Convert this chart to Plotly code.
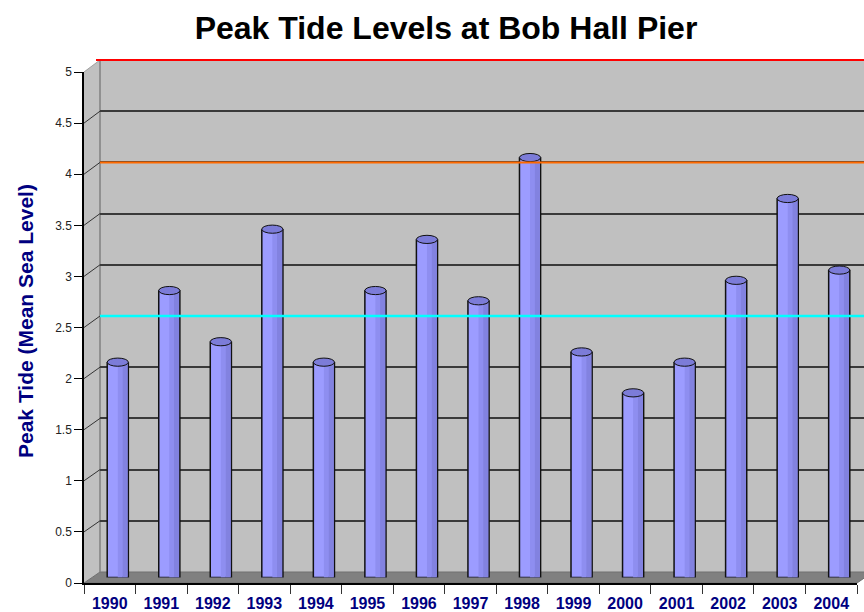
import plotly.graph_objects as go

# ---- data ----
years = ["1990", "1991", "1992", "1993", "1994", "1995", "1996", "1997",
         "1998", "1999", "2000", "2001", "2002", "2003", "2004"]
peak_tide = [2.1, 2.8, 2.3, 3.4, 2.1, 2.8, 3.3, 2.7, 4.1, 2.2, 1.8, 2.1, 2.9, 3.7, 3.0]
ref_levels = [5.0, 4.0, 2.5]
ref_colors = ["#FF0000", "#FF6A00", "#00FFFF"]
y_ticks = [0, 0.5, 1, 1.5, 2, 2.5, 3, 3.5, 4, 4.5, 5]

W, H = 864, 612
def px(x):
    return x / W
def py(y):
    return 1 - y / H

n = len(years)
cat_px = (857 - 84) / n  # pixel width of a category on the front axis

# back wall (x: 100.., y 0@572 .. 5@60)
back_x0, back_top, back_bot = 100, 60, 572
# mid depth (bars)
mid_x0, mid_top, mid_bot = 92, 66, 577.5
# front (axes)
fr_x0, fr_x1, fr_top, fr_bot = 84, 857, 72, 583

def back_ypx(v):
    return back_bot - (back_bot - back_top) * v / 5.0
def front_ypx(v):
    return fr_bot - (fr_bot - fr_top) * v / 5.0

FONT = "Liberation Sans, Arial, sans-serif"
fig = go.Figure()

idx = list(range(n))
# bars (mid depth)
fig.add_trace(go.Bar(x=idx, y=peak_tide, xaxis="x2", yaxis="y2", width=0.41,
                     marker=dict(color="#9C9CFF", line=dict(color="#111111", width=1.5)),
                     hoverinfo="skip", showlegend=False))
fig.add_trace(go.Bar(x=idx, y=peak_tide, xaxis="x2", yaxis="y2", width=0.09, offset=0.0,
                     marker=dict(color="#8E8EF0", line=dict(width=0)),
                     hoverinfo="skip", showlegend=False))
fig.add_trace(go.Bar(x=idx, y=peak_tide, xaxis="x2", yaxis="y2", width=0.1, offset=0.09,
                     marker=dict(color="#8282E0", line=dict(width=0)),
                     hoverinfo="skip", showlegend=False))
# invisible traces to establish back and front axes
fig.add_trace(go.Scatter(x=idx, y=peak_tide, xaxis="x", yaxis="y", mode="markers",
                         marker=dict(opacity=0), hoverinfo="skip", showlegend=False))
fig.add_trace(go.Scatter(x=years, y=peak_tide, xaxis="x3", yaxis="y3", mode="markers",
                         marker=dict(opacity=0), hoverinfo="skip", showlegend=False))

shapes = []
# back wall
shapes.append(dict(type="rect", xref="paper", yref="paper", layer="below",
                   x0=px(back_x0), x1=1, y0=py(back_bot), y1=py(back_top),
                   fillcolor="#C0C0C0", line=dict(width=0)))
# side wall
shapes.append(dict(type="path", xref="paper", yref="paper", layer="below",
                   path=f"M {px(fr_x0)} {py(fr_bot)} L {px(fr_x0)} {py(fr_top)} "
                        f"L {px(back_x0)} {py(back_top)} L {px(back_x0)} {py(back_bot)} Z",
                   fillcolor="#C0C0C0", line=dict(width=0)))
# floor
shapes.append(dict(type="path", xref="paper", yref="paper", layer="below",
                   path=f"M {px(fr_x0)} {py(fr_bot)} L {px(fr_x1)} {py(fr_bot)} "
                        f"L {px(fr_x1+16)} {py(back_bot)} L {px(back_x0)} {py(back_bot)} Z",
                   fillcolor="#808080", line=dict(color="#707070", width=1)))
# left side wall edges
shapes.append(dict(type="line", xref="paper", yref="paper", layer="below",
                   x0=px(back_x0), x1=px(back_x0), y0=py(back_bot), y1=py(back_top),
                   line=dict(color="#808080", width=1.5)))
shapes.append(dict(type="line", xref="paper", yref="paper", layer="below",
                   x0=px(fr_x0), x1=px(back_x0), y0=py(fr_top), y1=py(back_top),
                   line=dict(color="#A0A0A0", width=1)))
# side wall slanted grid connectors
for v in y_ticks[1:-1]:
    shapes.append(dict(type="line", xref="paper", yref="paper", layer="below",
                       x0=px(fr_x0), x1=px(back_x0), y0=py(front_ypx(v)), y1=py(back_ypx(v)),
                       line=dict(color="#333333", width=1)))
# bar top caps
for i, v in enumerate(peak_tide):
    shapes.append(dict(type="circle", xref="x2", yref="y2", layer="above",
                       x0=i - 0.205, x1=i + 0.205, y0=v - 0.035, y1=v + 0.045,
                       fillcolor="#7C7CD8", line=dict(color="#111111", width=1)))
# reference lines on back wall
for lv, c in zip(ref_levels, ref_colors):
    yy = py(back_ypx(lv))
    shapes.append(dict(type="line", xref="paper", yref="paper", layer="above",
                       x0=px(back_x0 - 4) if lv == 5.0 else px(back_x0), x1=1, y0=yy, y1=yy,
                       line=dict(color=c, width=2.5 if c == "#00FFFF" else 2)))

fig.update_layout(
    template="none",
    width=W, height=H,
    margin=dict(l=0, r=0, t=0, b=0, autoexpand=False),
    paper_bgcolor="white",
    plot_bgcolor="rgba(0,0,0,0)",
    barmode="overlay",
    showlegend=False,
    font=dict(family=FONT),
    title=dict(text="<b>Peak Tide Levels at Bob Hall Pier</b>",
               font=dict(size=32, color="black", family=FONT),
               x=446 / W, xanchor="center", y=py(28), yanchor="middle", yref="container"),
    xaxis=dict(domain=[px(back_x0), 1], range=[-0.5, -0.5 + (W - back_x0) / cat_px],
               showgrid=False, showticklabels=False, zeroline=False, ticks="", showline=False,
               anchor="y", automargin=False),
    yaxis=dict(domain=[py(back_bot), py(back_top)], range=[0, 5], dtick=0.5, tick0=0,
               showgrid=True, gridcolor="#3A3A3A", gridwidth=1.5, showline=False,
               showticklabels=False, zeroline=False, ticks="", anchor="x", automargin=False),
    xaxis2=dict(domain=[px(mid_x0), 1], range=[-0.5, -0.5 + (W - mid_x0) / cat_px],
                showgrid=False, showticklabels=False, zeroline=False, ticks="",
                anchor="y2", visible=False, automargin=False),
    yaxis2=dict(domain=[py(mid_bot), py(mid_top)], range=[0, 5],
                showgrid=False, showticklabels=False, zeroline=False,
                anchor="x2", visible=False, automargin=False),
    xaxis3=dict(domain=[px(fr_x0), px(fr_x1)], range=[-0.5, n - 0.5], type="category",
                showgrid=False, zeroline=False, showline=True, linecolor="black", linewidth=1.5,
                ticks="outside", tickson="boundaries", ticklen=9, tickcolor="#333333",
                tickwidth=1, ticklabelstandoff=5,
                tickfont=dict(size=16, color="#000080", family=FONT, weight="bold"),
                anchor="y3", automargin=False),
    yaxis3=dict(domain=[py(fr_bot), py(fr_top)], range=[0, 5], tickvals=y_ticks,
                ticktext=[f"{t:g}" for t in y_ticks],
                showgrid=False, zeroline=False, showline=True, linecolor="black", linewidth=1.5,
                ticks="outside", ticklen=8, tickcolor="black", tickwidth=1,
                tickfont=dict(size=12, color="#222222", family=FONT), anchor="x3",
                automargin=False),
    shapes=shapes,
    annotations=[dict(text="<b>Peak Tide (Mean Sea Level)</b>", xref="paper", yref="paper",
                      x=px(25), y=py(321), textangle=-90, showarrow=False,
                      xanchor="center", yanchor="middle",
                      font=dict(size=21, color="#000080", family=FONT))],
)

fig.write_html("out.html",
               config={"displayModeBar": False},
               post_script="document.body.style.margin='0px';"
                           "document.body.style.overflow='hidden';")
